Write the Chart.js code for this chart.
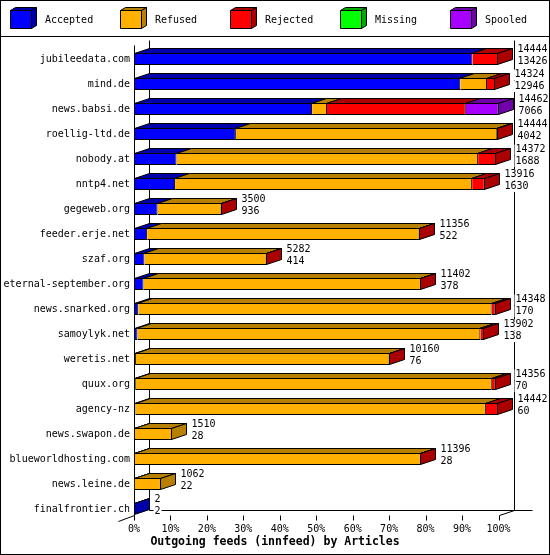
<!DOCTYPE html>
<html>
<head>
<meta charset="utf-8">
<title>Outgoing feeds (innfeed) by Articles</title>
<script src="https://cdn.jsdelivr.net/npm/chart.js@4.4.1/dist/chart.umd.min.js"></script>
<style>
    html, body { margin: 0; padding: 0; background: #fff; }
    #feedsChart { display: block; }
</style>
</head>
<body>
<canvas id="feedsChart" width="550" height="555"></canvas>
<script>
// ===================== DATA =====================
const hosts = ['jubileedata.com', 'mind.de', 'news.babsi.de', 'roellig-ltd.de', 'nobody.at', 'nntp4.net',
    'gegeweb.org', 'feeder.erje.net', 'szaf.org', 'eternal-september.org', 'news.snarked.org', 'samoylyk.net',
    'weretis.net', 'quux.org', 'agency-nz', 'news.swapon.de', 'blueworldhosting.com', 'news.leine.de', 'finalfrontier.ch'];

// offered = first number next to the bar, accepted = second one
const offered  = [14444, 14324, 14462, 14444, 14372, 13916, 3500, 11356, 5282, 11402, 14348, 13902, 10160, 14356, 14442, 1510, 11396, 1062, 2];
const accepted = [13426, 12946, 7066, 4042, 1688, 1630, 936, 522, 414, 378, 170, 138, 76, 70, 60, 28, 28, 22, 2];
const refused  = [0, 1060, 590, 10372, 11965, 11786, 2540, 10810, 4848, 11004, 14018, 13604, 10064, 14126, 13902, 1482, 11348, 1040, 0];
const rejected = [1018, 318, 5510, 30, 719, 500, 24, 24, 20, 20, 160, 160, 20, 160, 480, 0, 20, 0, 0];
const missing  = [0, 0, 0, 0, 0, 0, 0, 0, 0, 0, 0, 0, 0, 0, 0, 0, 0, 0, 0];
const spooled  = [0, 0, 1296, 0, 0, 0, 0, 0, 0, 0, 0, 0, 0, 0, 0, 0, 0, 0, 0];

const seriesNames = ['Accepted', 'Refused', 'Rejected', 'Missing', 'Spooled'];
const tickPercents = [0, 10, 20, 30, 40, 50, 60, 70, 80, 90, 100];
const chartTitle = 'Outgoing feeds (innfeed) by Articles';

// ===================== LOOK =====================
const frontColors = ['#0000ff', '#ffb000', '#ff0000', '#00ff00', '#a800ff'];
const sideColors  = ['#0000aa', '#b88000', '#aa0000', '#00aa00', '#7000aa'];
const FONT = 'DejaVu Sans Mono';
const DX = 15, DY = -5;   // depth of the 3d bars
const maxTotal = Math.max(...offered);
const seriesData = [accepted, refused, rejected, missing, spooled];

function poly(ctx, pts, fill) {
    ctx.beginPath();
    ctx.moveTo(pts[0][0], pts[0][1]);
    for (let k = 1; k < pts.length; k++) ctx.lineTo(pts[k][0], pts[k][1]);
    ctx.closePath();
    if (fill) { ctx.fillStyle = fill; ctx.fill(); }
    ctx.stroke();
}

function line(ctx, x1, y1, x2, y2) {
    ctx.beginPath();
    ctx.moveTo(x1, y1);
    ctx.lineTo(x2, y2);
    ctx.stroke();
}

// ===================== PLUGIN: walls, 3d faces, labels, legend =====================
const innreportPlugin = {
    id: 'innreport',
    beforeDraw(chart) {
        const ctx = chart.ctx;
        ctx.save();
        ctx.fillStyle = '#fff';
        ctx.fillRect(0, 0, chart.width, chart.height);
        ctx.restore();
    },
    beforeDatasetsDraw(chart) {
        const { ctx, chartArea: ca, scales: { x } } = chart;
        const L = Math.round(ca.left) + 0.5;
        const R = Math.round(x.getPixelForValue(maxTotal)) + 0.5;
        const F = Math.floor(ca.bottom - 6) + 0.5;
        const T = Math.round(ca.top) - 1.5;
        ctx.save();
        ctx.strokeStyle = '#000';
        ctx.lineWidth = 1;
        line(ctx, L, T, L, F);                       // left wall
        line(ctx, L + DX, T + DY, L + DX, F + DY);   // back wall
        line(ctx, R + DX, T + DY, R + DX, F + DY);   // right wall
        line(ctx, L + DX, F + DY, R + DX + 18, F + DY);
        line(ctx, L - 16, F + 6, L, F);
        line(ctx, R, F, R + DX, F + DY);
        tickPercents.forEach(p => {
            const tx = Math.round(x.getPixelForValue(p / 100 * maxTotal)) + 0.5;
            line(ctx, tx, F, tx, F + 5);
        });
        ctx.restore();
    },
    afterDatasetsDraw(chart) {
        const { ctx, scales: { x } } = chart;
        ctx.save();
        ctx.strokeStyle = '#000';
        ctx.lineWidth = 1;
        ctx.font = '10px "' + FONT + '"';
        ctx.textBaseline = 'middle';
        hosts.forEach((host, i) => {
            const segs = [];
            chart.data.datasets.forEach((ds, d) => {
                if (ds.data[i] > 0) {
                    const el = chart.getDatasetMeta(d).data[i];
                    segs.push({ x0: Math.min(el.base, el.x), x1: Math.max(el.base, el.x), y: el.y, h: el.height, dark: sideColors[d] });
                }
            });
            if (!segs.length) return;
            const top = Math.round(segs[0].y - segs[0].h / 2) + 0.5;
            const bot = Math.round(segs[0].y + segs[0].h / 2) - 0.5;
            let end = 0;
            segs.forEach((s, k) => {
                const a = k === 0 ? Math.round(s.x0) + 0.5 : Math.round(s.x0) - 0.5;
                const b = Math.max(a, Math.round(s.x1) - 0.5);
                poly(ctx, [[a, top], [b, top], [b + DX, top + DY], [a + DX, top + DY]], s.dark);
                end = b;
            });
            const last = segs[segs.length - 1];
            poly(ctx, [[end, top], [end + DX, top + DY], [end + DX, bot + DY], [end, bot]], last.dark);

            // numbers next to the bar
            const tx = end + DX + 5;
            const cy = segs[0].y;
            [[String(offered[i]), cy - 9.5], [String(accepted[i]), cy + 2]].forEach(([txt, ly]) => {
                const w = ctx.measureText(txt).width;
                ctx.fillStyle = '#fff';
                ctx.fillRect(tx - 1, ly - 5, w + 2, 11);
                ctx.fillStyle = '#000';
                ctx.fillText(txt, tx, ly);
            });
        });
        ctx.restore();
    },
    afterDraw(chart) {
        const ctx = chart.ctx;
        ctx.save();
        ctx.strokeStyle = '#000';
        ctx.lineWidth = 1;
        ctx.font = '10px "' + FONT + '"';
        ctx.textBaseline = 'middle';
        // legend
        chart.data.datasets.forEach((ds, d) => {
            const bx = 10.5 + 110 * d, by = 10.5, w = 21, h = 18;
            poly(ctx, [[bx, by], [bx + w, by], [bx + w + 5, by - 3], [bx + 5, by - 3]], sideColors[d]);
            poly(ctx, [[bx + w, by], [bx + w + 5, by - 3], [bx + w + 5, by + h - 3], [bx + w, by + h]], sideColors[d]);
            poly(ctx, [[bx, by], [bx + w, by], [bx + w, by + h], [bx, by + h]], frontColors[d]);
            ctx.fillStyle = '#000';
            ctx.fillText(ds.label, 45 + 110 * d, 20);
        });
        // frame
        line(ctx, 0, 36.5, chart.width, 36.5);
        ctx.strokeRect(0.5, 0.5, chart.width - 1, chart.height - 1);
        ctx.restore();
    }
};

// ===================== CHART =====================
const ctx = document.getElementById('feedsChart').getContext('2d');
const feedsChart = new Chart(ctx, {
    type: 'bar',
    data: {
        labels: hosts,
        datasets: seriesNames.map((name, d) => ({
            label: name,
            data: seriesData[d],
            yAxisID: 'y',
            backgroundColor: frontColors[d],
            borderColor: '#000',
            borderWidth: 1,
            borderSkipped: d === 0 ? false : 'start',
            inflateAmount: 0,
            barThickness: 12
        }))
    },
    options: {
        indexAxis: 'y',
        responsive: false,
        animation: false,
        devicePixelRatio: 1,
        events: [],
        layout: {
            padding: { top: 46.5, right: 0, bottom: 0, left: 0 }
        },
        plugins: {
            legend: { display: false },
            tooltip: { enabled: false },
            title: {
                display: true,
                text: chartTitle,
                position: 'bottom',
                color: '#000',
                font: { family: FONT, size: 11.5, weight: 'bold' },
                padding: { top: 0, bottom: 6 }
            }
        },
        scales: {
            x: {
                stacked: true,
                min: 0,
                max: maxTotal,
                afterBuildTicks: scale => {
                    scale.ticks = tickPercents.map(p => ({ value: p / 100 * maxTotal }));
                },
                afterFit: scale => { scale.height = 13.7; },
                grid: { display: false, drawTicks: false },
                border: { display: false },
                ticks: {
                    autoSkip: false,
                    maxRotation: 0,
                    padding: 2,
                    color: '#000',
                    font: { family: FONT, size: 10 },
                    callback: (value, index) => tickPercents[index] + '%'
                }
            },
            y: {
                stacked: true,
                afterFit: scale => { scale.width = 134; },
                grid: { display: false, drawTicks: false },
                border: { display: false },
                ticks: {
                    padding: 4,
                    color: '#000',
                    font: { family: FONT, size: 10 }
                }
            },
            yRight: {
                type: 'category',
                position: 'right',
                afterFit: scale => { scale.width = 51.5; },
                grid: { display: false, drawTicks: false },
                border: { display: false },
                ticks: { display: false }
            }
        }
    },
    plugins: [innreportPlugin]
});
</script>
</body>
</html>
